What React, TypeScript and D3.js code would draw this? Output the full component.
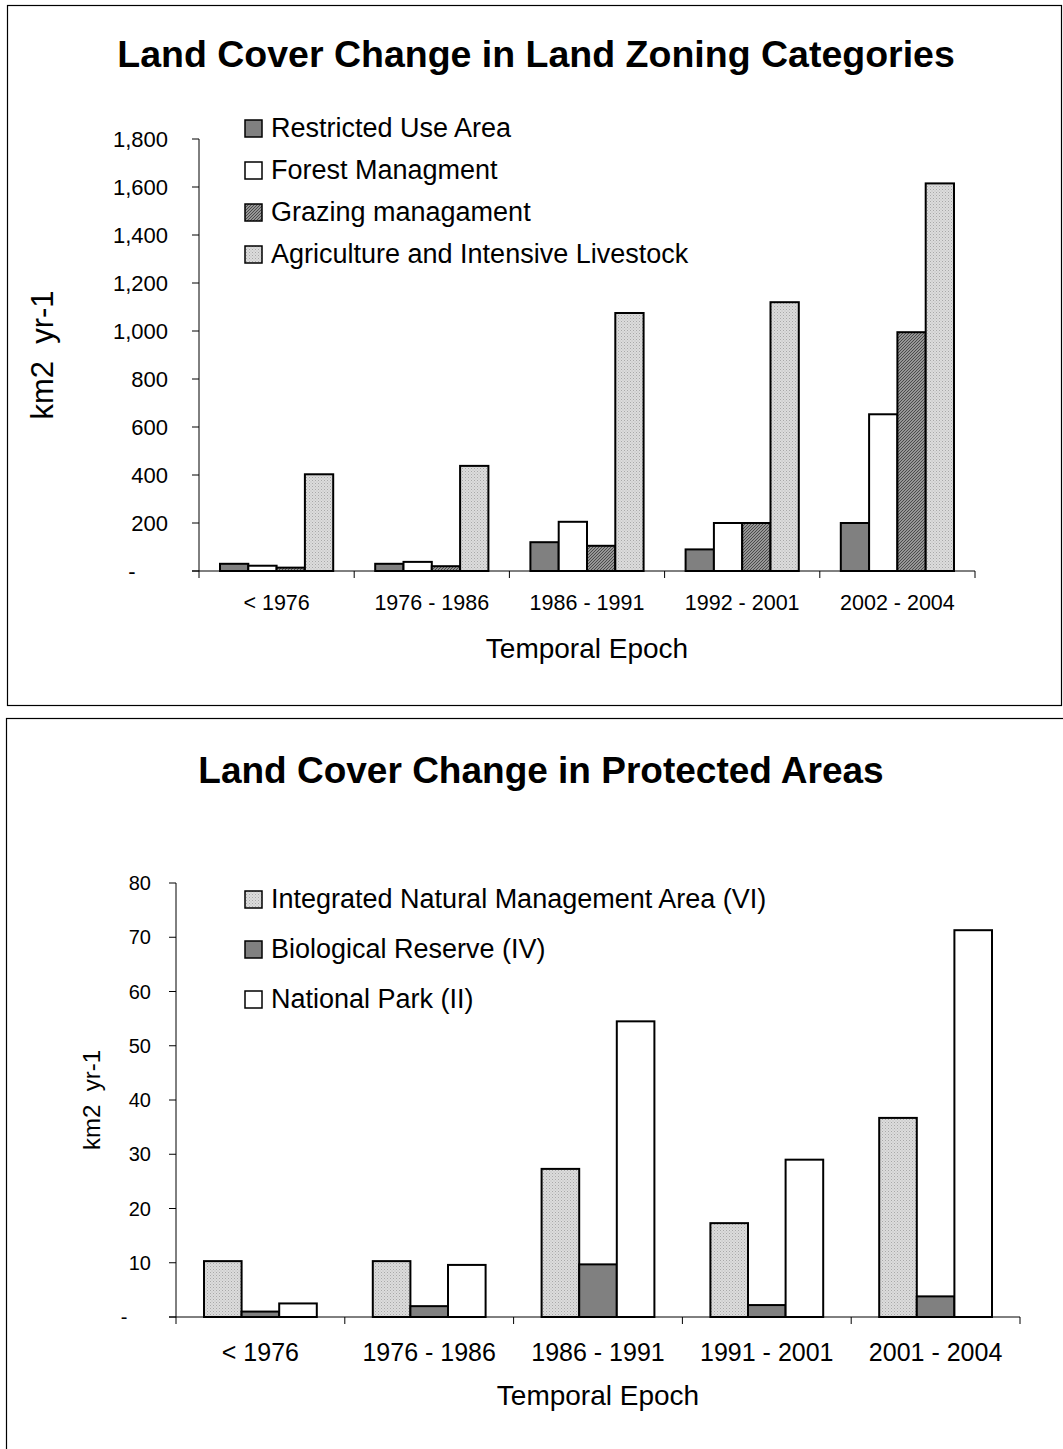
import React from "react";
import * as d3 from "d3";

// ---------- Data: top chart ----------
const zoningCategories = ["< 1976", "1976 - 1986", "1986 - 1991", "1992 - 2001", "2002 - 2004"];
const zoningSeries = ["Restricted Use Area", "Forest Managment", "Grazing managament", "Agriculture and Intensive Livestock"];
const restrictedUse = [30, 30, 120, 90, 200];
const forestManagement = [22, 38, 205, 200, 653];
const grazingManagement = [14, 20, 105, 200, 995];
const agricultureLivestock = [403, 438, 1075, 1120, 1615];
const zoningTicks = [0, 200, 400, 600, 800, 1000, 1200, 1400, 1600, 1800];
const zoningTickLabels = ["-", "200", "400", "600", "800", "1,000", "1,200", "1,400", "1,600", "1,800"];

// ---------- Data: bottom chart ----------
const protectedCategories = ["< 1976", "1976 - 1986", "1986 - 1991", "1991 - 2001", "2001 - 2004"];
const protectedSeries = ["Integrated Natural Management Area (VI)", "Biological Reserve (IV)", "National Park (II)"];
const integratedNatural = [10.3, 10.3, 27.3, 17.3, 36.7];
const biologicalReserve = [1.0, 2.0, 9.7, 2.2, 3.8];
const nationalPark = [2.5, 9.6, 54.5, 29.0, 71.3];
const protectedTicks = [0, 10, 20, 30, 40, 50, 60, 70, 80];
const protectedTickLabels = ["-", "10", "20", "30", "40", "50", "60", "70", "80"];

const FONT = "Arial, 'Liberation Sans', Helvetica, sans-serif";

type ChartCfg = {
  panel: { x: number; y: number; w: number; h: number };
  title: string;
  titleX: number;
  titleY: number;
  titleFont: number;
  categories: string[];
  series: string[];
  values: number[][];
  fills: string[];
  ticks: number[];
  tickLabels: string[];
  yMax: number;
  xRange: [number, number];
  yRange: [number, number];
  groupPad: number;
  yTickFont: number;
  yTickLabelX: number;
  zeroLabelX: number;
  xLabelFont: number;
  xLabelY: number;
  xTitleY: number;
  xTitleFont: number;
  yTitle: string;
  yTitleX: number;
  yTitleFont: number;
  legendX: number;
  legendY0: number;
  legendStep: number;
  legendFont: number;
  legendOrder: number[];
};

function Chart({ c }: { c: ChartCfg }) {
  const x0 = d3.scaleBand<string>().domain(c.categories).range(c.xRange).paddingInner(0).paddingOuter(0);
  const bw = x0.bandwidth();
  const x1 = d3.scaleBand<string>().domain(c.series).range([c.groupPad, bw - c.groupPad]).padding(0);
  const y = d3.scaleLinear().domain([0, c.yMax]).range(c.yRange);
  const [xl, xr] = c.xRange;
  const base = y(0);
  const boundaries = d3.range(c.categories.length + 1).map((i) => xl + i * bw);
  return (
    <g>
      <rect x={c.panel.x + 0.5} y={c.panel.y + 0.5} width={c.panel.w} height={c.panel.h} fill="#fff" stroke="#000" strokeWidth={1.2} />
      <text x={c.titleX} y={c.titleY} textAnchor="middle" fontFamily={FONT} fontWeight="bold" fontSize={c.titleFont}>{c.title}</text>
      {/* bars */}
      {c.categories.map((cat, i) => (
        <g key={cat}>
          {c.series.map((s, j) => {
            const v = c.values[j][i];
            const bx = (x0(cat) as number) + (x1(s) as number);
            return (
              <rect key={s} x={bx} y={y(v)} width={x1.bandwidth()} height={base - y(v)} fill={c.fills[j]} stroke="#000" strokeWidth={2} />
            );
          })}
        </g>
      ))}
      {/* y axis */}
      <line x1={xl} x2={xl} y1={y(c.yMax)} y2={base} stroke="#000" strokeWidth={1} />
      {c.ticks.map((t, i) => (
        <g key={t}>
          <line x1={xl - 7} x2={xl} y1={y(t)} y2={y(t)} stroke="#000" strokeWidth={1} />
          <text
            x={t === 0 ? c.zeroLabelX : c.yTickLabelX}
            y={y(t)}
            dy="0.35em"
            textAnchor={t === 0 ? "middle" : "end"}
            fontFamily={FONT}
            fontSize={c.yTickFont}
          >
            {c.tickLabels[i]}
          </text>
        </g>
      ))}
      {/* x axis */}
      <line x1={xl - 7} x2={xr} y1={base} y2={base} stroke="#000" strokeWidth={1} />
      {boundaries.map((bx, i) => (
        <line key={i} x1={bx} x2={bx} y1={base} y2={base + 7} stroke="#000" strokeWidth={1} />
      ))}
      {c.categories.map((cat) => (
        <text key={cat} x={(x0(cat) as number) + bw / 2} y={c.xLabelY} textAnchor="middle" fontFamily={FONT} fontSize={c.xLabelFont}>
          {cat}
        </text>
      ))}
      <text x={(xl + xr) / 2} y={c.xTitleY} textAnchor="middle" fontFamily={FONT} fontSize={c.xTitleFont}>Temporal Epoch</text>
      <text
        transform={`translate(${c.yTitleX},${(y(c.yMax) + base) / 2}) rotate(-90)`}
        textAnchor="middle"
        dy="0.35em"
        fontFamily={FONT}
        fontSize={c.yTitleFont}
        style={{ whiteSpace: "pre" }}
      >
        {c.yTitle}
      </text>
      {/* legend */}
      {c.legendOrder.map((j, k) => {
        const ly = c.legendY0 + k * c.legendStep;
        return (
          <g key={c.series[j]}>
            <rect x={c.legendX} y={ly - 17} width={17} height={17} fill={c.fills[j]} stroke="#000" strokeWidth={1.5} />
            <text x={c.legendX + 26} y={ly} fontFamily={FONT} fontSize={c.legendFont}>{c.series[j]}</text>
          </g>
        );
      })}
    </g>
  );
}

export default function App() {
  const top: ChartCfg = {
    panel: { x: 7, y: 5, w: 1054, h: 700 },
    title: "Land Cover Change in Land Zoning Categories",
    titleX: 536,
    titleY: 67,
    titleFont: 37.5,
    categories: zoningCategories,
    series: zoningSeries,
    values: [restrictedUse, forestManagement, grazingManagement, agricultureLivestock],
    fills: ["#808080", "#ffffff", "url(#hatchDark)", "url(#dotsLight)"],
    ticks: zoningTicks,
    tickLabels: zoningTickLabels,
    yMax: 1800,
    xRange: [199, 975],
    yRange: [571, 139],
    groupPad: 21,
    yTickFont: 22,
    yTickLabelX: 168,
    zeroLabelX: 132,
    xLabelFont: 21.5,
    xLabelY: 610,
    xTitleY: 658,
    xTitleFont: 28,
    yTitle: "km2  yr-1",
    yTitleX: 42,
    yTitleFont: 31,
    legendX: 245,
    legendY0: 137,
    legendStep: 42,
    legendFont: 27,
    legendOrder: [0, 1, 2, 3],
  };
  const bottom: ChartCfg = {
    panel: { x: 6, y: 718, w: 1060, h: 760 },
    title: "Land Cover Change in Protected Areas",
    titleX: 541,
    titleY: 783,
    titleFont: 37,
    categories: protectedCategories,
    series: protectedSeries,
    values: [integratedNatural, biologicalReserve, nationalPark],
    fills: ["url(#dotsLight)", "#808080", "#ffffff"],
    ticks: protectedTicks,
    tickLabels: protectedTickLabels,
    yMax: 80,
    xRange: [176, 1020],
    yRange: [1317, 883],
    groupPad: 28,
    yTickFont: 20,
    yTickLabelX: 151,
    zeroLabelX: 124,
    xLabelFont: 25,
    xLabelY: 1361,
    xTitleY: 1405,
    xTitleFont: 28,
    yTitle: "km2  yr-1",
    yTitleX: 92,
    yTitleFont: 24,
    legendX: 245,
    legendY0: 908,
    legendStep: 50,
    legendFont: 27,
    legendOrder: [0, 1, 2],
  };
  return (
    <svg width={1063} height={1449} style={{ position: "absolute", left: 0, top: 0, display: "block" }}>
      <defs>
        <pattern id="dotsLight" width={3} height={3} patternUnits="userSpaceOnUse">
          <rect width={3} height={3} fill="#dcdcdc" />
          <rect x={0} y={0} width={1} height={1} fill="#a8a8a8" />
          <rect x={1.5} y={1.5} width={1} height={1} fill="#bbbbbb" />
        </pattern>
        <pattern id="hatchDark" width={3} height={3} patternUnits="userSpaceOnUse">
          <rect width={3} height={3} fill="#969696" />
          <path d="M0,3 L3,0" stroke="#4a4a4a" strokeWidth={1} />
        </pattern>
      </defs>
      <rect width={1063} height={1449} fill="#fff" />
      <Chart c={top} />
      <Chart c={bottom} />
    </svg>
  );
}
